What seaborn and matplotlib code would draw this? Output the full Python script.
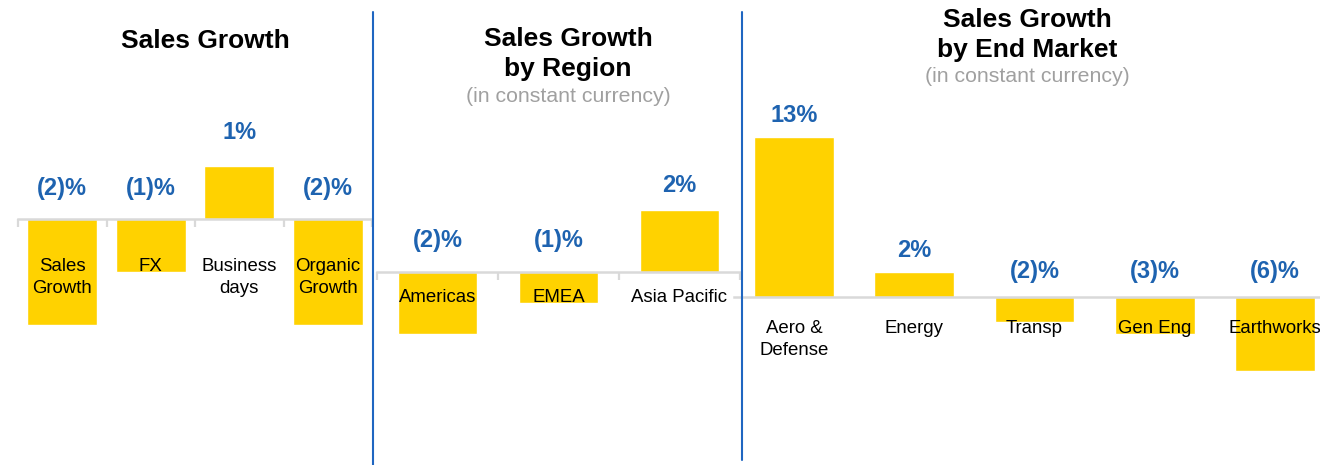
import matplotlib
matplotlib.use("Agg")
import matplotlib.pyplot as plt
from matplotlib.lines import Line2D
import seaborn as sns

# sales growth bridge
bridge_cats = ["Sales\nGrowth", "FX", "Business\ndays", "Organic\nGrowth"]
bridge_vals = [-2, -1, 1, -2]

# by region
region_cats = ["Americas", "EMEA", "Asia Pacific"]
region_vals = [-2, -1, 2]

# by end market
market_cats = ["Aero &\nDefense", "Energy", "Transp", "Gen Eng", "Earthworks"]
market_vals = [13, 2, -2, -3, -6]

GOLD = "#FFD200"
BLUE = "#1E63B0"
GREY_AXIS = "#D9D9D9"

sns.set_style("white")
plt.rcParams["font.family"] = ["Liberation Sans", "DejaVu Sans"]

W, H = 1320, 465
fig = plt.figure(figsize=(W / 100, H / 100), dpi=100)


def fmt(v):
    return f"({abs(v)})%" if v < 0 else f"{v}%"


def panel(cats, vals, left, right, zero_px, px_per_unit, bar_w,
          pos_off, neg_off, cat_off, boundary_ticks):
    ax = fig.add_axes([left / W, 0, (right - left) / W, 1])
    sns.barplot(x=cats, y=vals, color=GOLD, saturation=1, width=bar_w, ax=ax)
    n = len(cats)
    ax.set_xlim(-0.5, n - 0.5)
    ax.set_ylim(-(H - zero_px) / px_per_unit, zero_px / px_per_unit)
    for s in ["top", "left", "right"]:
        ax.spines[s].set_visible(False)
    ax.spines["bottom"].set_position(("data", 0))
    ax.spines["bottom"].set_color(GREY_AXIS)
    ax.spines["bottom"].set_linewidth(1.8)
    ax.set_yticks([])
    ax.set_xticks(range(n))
    ax.set_xticklabels([])
    ax.tick_params(axis="x", which="major", length=0)
    if boundary_ticks:
        ax.set_xticks([i - 0.5 for i in range(n + 1)], minor=True)
        ax.tick_params(axis="x", which="minor", bottom=True, length=6,
                       width=1.6, color=GREY_AXIS, direction="out")
    ax.set_xlabel("")
    ax.set_ylabel("")
    ax.patch.set_alpha(0)
    for i, (c, v) in enumerate(zip(cats, vals)):
        base = v if v > 0 else 0
        off = pos_off if v > 0 else neg_off
        ax.annotate(fmt(v), xy=(i, base), xytext=(0, off),
                    textcoords="offset pixels", ha="center", va="center",
                    fontsize=17, fontweight="bold", color=BLUE)
        ax.annotate(c, xy=(i, 0), xytext=(0, -cat_off),
                    textcoords="offset pixels", ha="center", va="top",
                    fontsize=13.4, color="black", linespacing=1.38,
                    annotation_clip=False)
    return ax


panel(bridge_cats, bridge_vals, 18, 372, 219, 53, 0.795, 34, 31, 39, True)
panel(region_cats, region_vals, 377, 740, 272, 31, 0.66, 25, 32, 17, True)
panel(market_cats, market_vals, 734, 1335, 297, 12.3, 0.665, 22, 26, 23, False)

# titles
title_kw = dict(ha="center", va="center", fontsize=19, fontweight="bold",
                color="black", linespacing=1.27)
sub_kw = dict(ha="center", va="center", fontsize=15.3, color="#A0A0A0")
fig.text(205 / W, 1 - 41 / H, "Sales Growth", **title_kw)
fig.text(568 / W, 1 - 54 / H, "Sales Growth\nby Region", **title_kw)
fig.text(568 / W, 1 - 96 / H, "(in constant currency)", **sub_kw)
fig.text(1027 / W, 1 - 35 / H, "Sales Growth\nby End Market", **title_kw)
fig.text(1027 / W, 1 - 77 / H, "(in constant currency)", **sub_kw)

# panel dividers
for x, y0, y1 in [(373, 12, 465), (742, 12, 460)]:
    fig.add_artist(Line2D([x / W, x / W], [1 - y0 / H, 1 - y1 / H],
                          transform=fig.transFigure, color="#1F66C1",
                          linewidth=1.5))

fig.savefig("out.png", dpi=100)
